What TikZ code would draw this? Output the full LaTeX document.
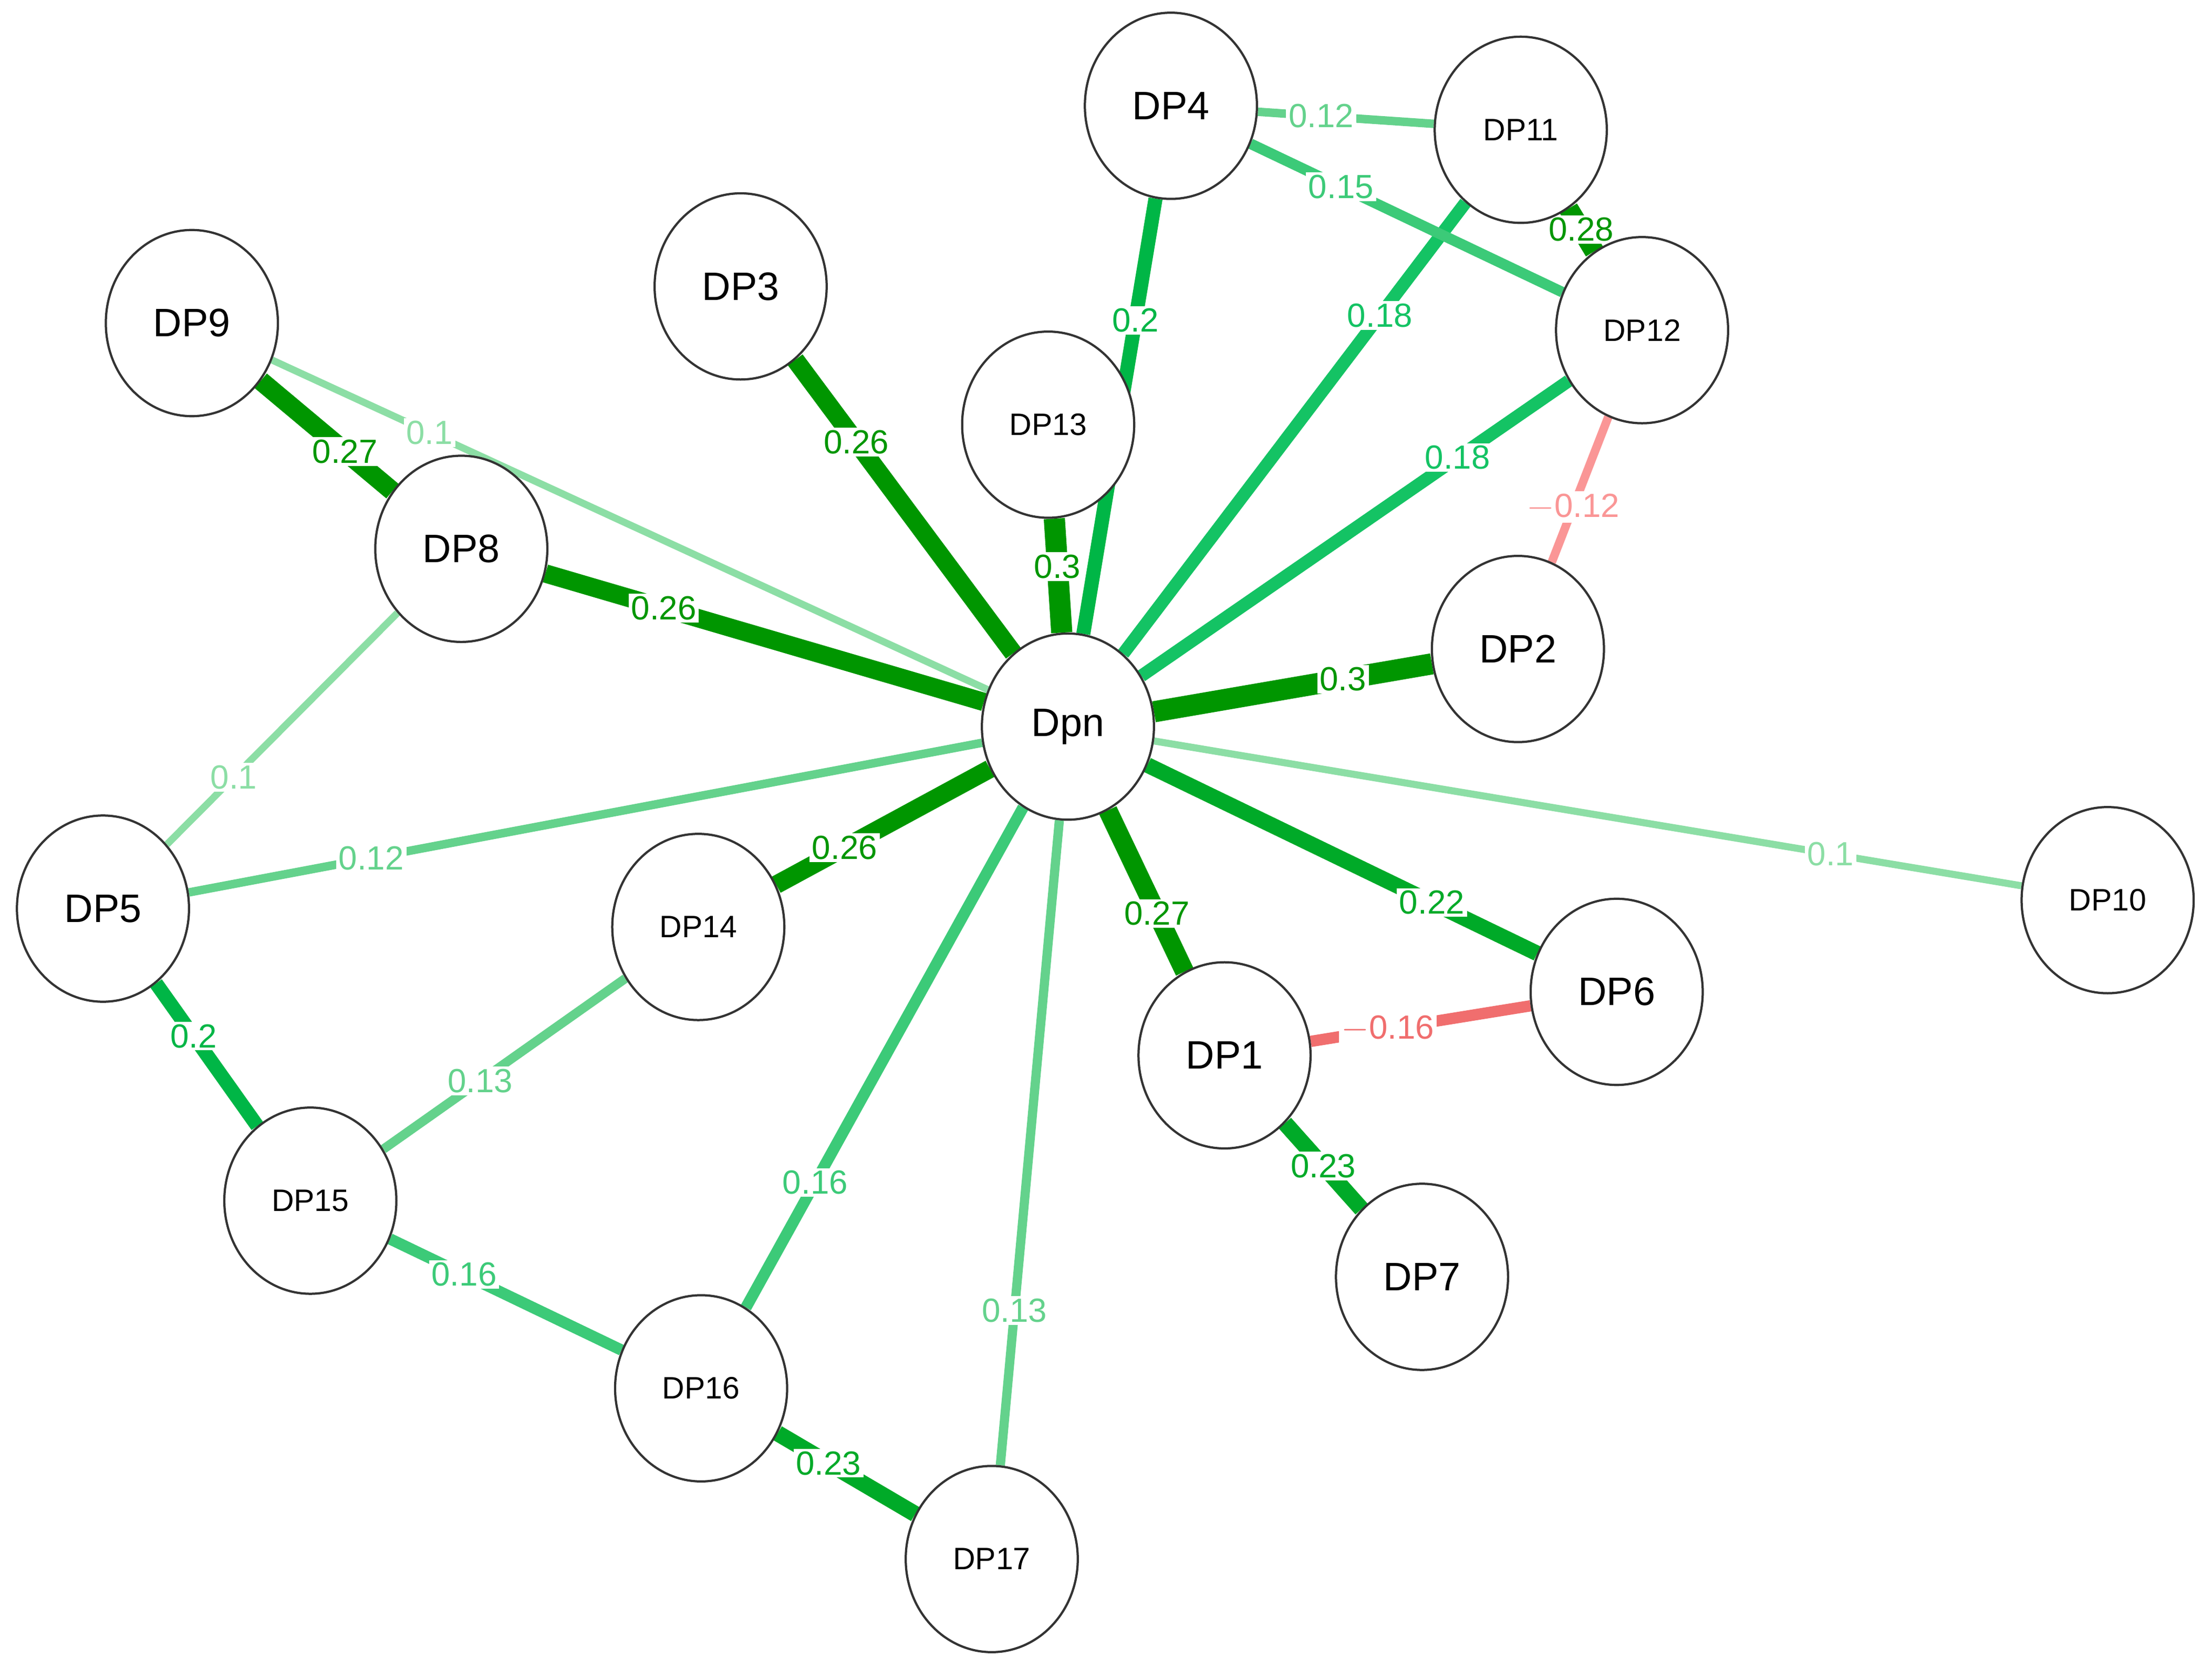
\documentclass[tikz,border=0pt]{standalone}
\usepackage{fontspec}
\setmainfont{Liberation Sans}
\usetikzlibrary{shapes.geometric,backgrounds}
\definecolor{cA}{RGB}{0,150,0}
\definecolor{cB}{RGB}{0,170,40}
\definecolor{cC}{RGB}{0,182,70}
\definecolor{cD}{RGB}{20,195,100}
\definecolor{cE}{RGB}{60,202,120}
\definecolor{cF}{RGB}{100,210,140}
\definecolor{cG}{RGB}{140,222,165}
\definecolor{rA}{RGB}{240,110,110}
\definecolor{rB}{RGB}{250,150,150}
\tikzset{
 dp/.style={ellipse,draw=black!80,line width=0.9pt,fill=white,minimum width=2.44cm,minimum height=2.64cm,inner sep=0pt},
 big/.style={dp,font=\fontsize{16}{18}\selectfont},
 small/.style={dp,font=\fontsize{12.5}{14}\selectfont},
 lab/.style={fill=white,inner sep=1pt,font=\fontsize{13.5}{15}\selectfont}
}
\newcommand{\Ed}[6]{\draw[#4,line width=#3cm] (#1) -- node[lab,pos=#5,text=#4]{#6} (#2);}
\begin{document}
\begin{tikzpicture}[x=0.02cm,y=-0.02cm]
\useasboundingbox (0,0) rectangle (1568,1182);
\node[big] (Dpn) at (757,515) {Dpn};
\node[big] (DP1) at (868,748) {DP1};
\node[big] (DP2) at (1076,460) {DP2};
\node[big] (DP3) at (525,203) {DP3};
\node[big] (DP4) at (830,75) {DP4};
\node[big] (DP5) at (73,644) {DP5};
\node[big] (DP6) at (1146,703) {DP6};
\node[big] (DP7) at (1008,905) {DP7};
\node[big] (DP8) at (327,389) {DP8};
\node[big] (DP9) at (136,229) {DP9};
\node[small] (DP10) at (1494,638) {DP10};
\node[small] (DP11) at (1078,92) {DP11};
\node[small] (DP12) at (1164,234) {DP12};
\node[small] (DP13) at (743,301) {DP13};
\node[small] (DP14) at (495,657) {DP14};
\node[small] (DP15) at (220,851) {DP15};
\node[small] (DP16) at (497,984) {DP16};
\node[small] (DP17) at (703,1105) {DP17};
\begin{pgfonlayer}{background}
\Ed{Dpn}{DP9}{0.1}{cG}{0.78}{0.1}
\Ed{Dpn}{DP10}{0.1}{cG}{0.78}{0.1}
\Ed{Dpn}{DP5}{0.12}{cF}{0.77}{0.12}
\Ed{Dpn}{DP17}{0.13}{cF}{0.76}{0.13}
\Ed{Dpn}{DP16}{0.16}{cE}{0.75}{0.16}
\Ed{Dpn}{DP11}{0.18}{cD}{0.75}{0.18}
\Ed{Dpn}{DP12}{0.18}{cD}{0.74}{0.18}
\Ed{Dpn}{DP4}{0.2}{cC}{0.72}{0.2}
\Ed{Dpn}{DP6}{0.22}{cB}{0.73}{0.22}
\Ed{Dpn}{DP1}{0.27}{cA}{0.64}{0.27}
\Ed{Dpn}{DP2}{0.3}{cA}{0.68}{0.3}
\Ed{Dpn}{DP3}{0.26}{cA}{0.72}{0.26}
\Ed{Dpn}{DP8}{0.26}{cA}{0.73}{0.26}
\Ed{Dpn}{DP13}{0.3}{cA}{0.58}{0.3}
\Ed{Dpn}{DP14}{0.26}{cA}{0.68}{0.26}
\Ed{DP4}{DP11}{0.12}{cF}{0.36}{0.12}
\Ed{DP4}{DP12}{0.15}{cE}{0.29}{0.15}
\Ed{DP11}{DP12}{0.28}{cA}{0.49}{0.28}
\Ed{DP12}{DP2}{0.12}{rB}{0.62}{$-$0.12}
\Ed{DP9}{DP8}{0.27}{cA}{0.64}{0.27}
\Ed{DP8}{DP5}{0.1}{cG}{0.71}{0.1}
\Ed{DP5}{DP15}{0.2}{cC}{0.37}{0.2}
\Ed{DP14}{DP15}{0.13}{cF}{0.6}{0.13}
\Ed{DP15}{DP16}{0.16}{cE}{0.32}{0.16}
\Ed{DP16}{DP17}{0.23}{cB}{0.37}{0.23}
\Ed{DP1}{DP6}{0.16}{rA}{0.35}{$-$0.16}
\Ed{DP1}{DP7}{0.23}{cB}{0.5}{0.23}
\end{pgfonlayer}
\end{tikzpicture}
\end{document}
